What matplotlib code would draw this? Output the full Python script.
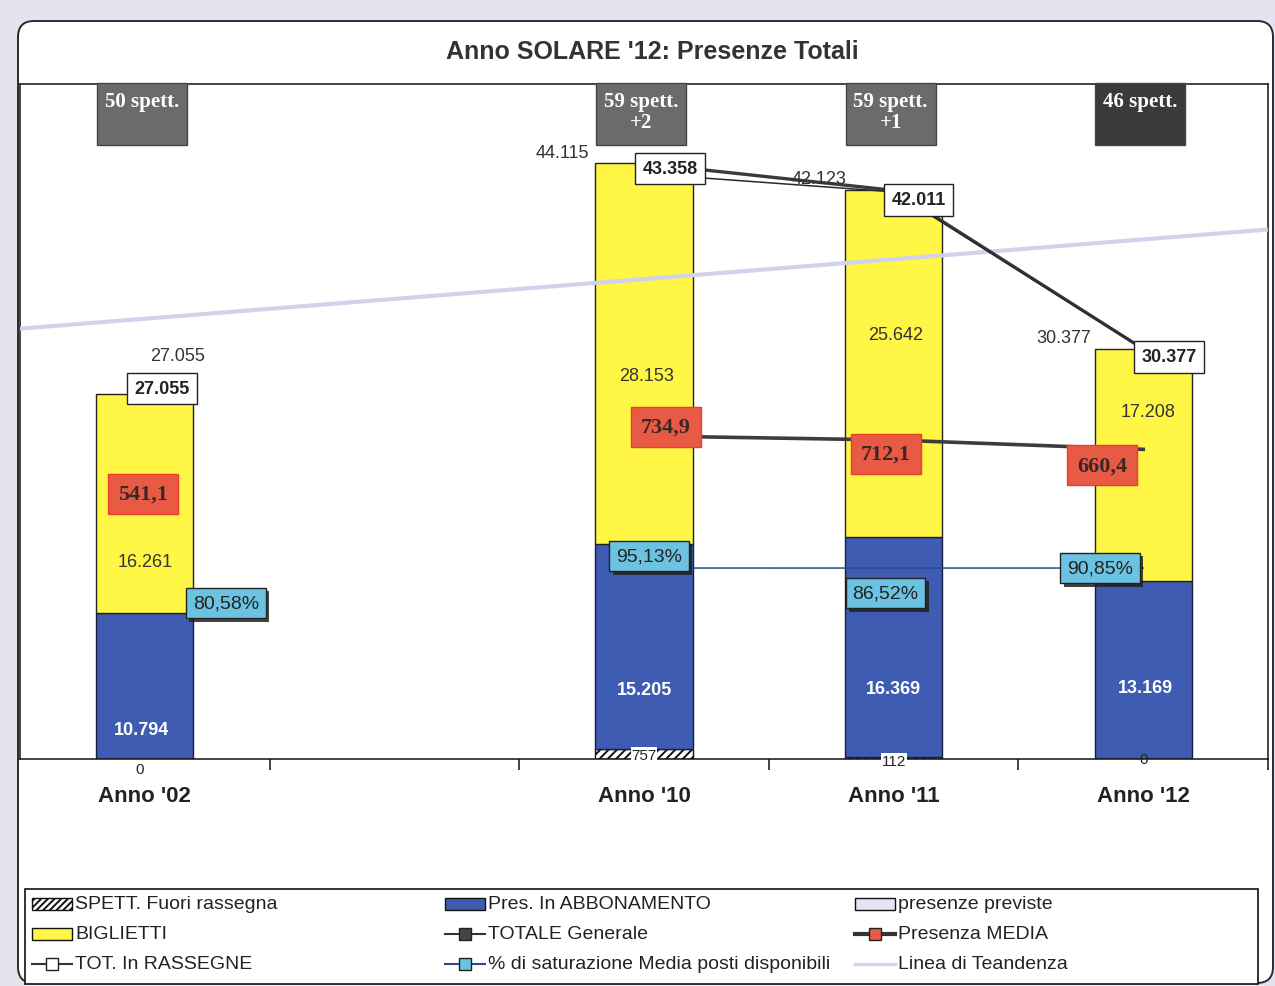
import numpy as np
import matplotlib
matplotlib.use('Agg')
import matplotlib.pyplot as plt
import matplotlib.patheffects as pe
import matplotlib.transforms as mtransforms
from matplotlib.patches import Rectangle, FancyBboxPatch
from matplotlib.lines import Line2D

plt.rcParams['font.family'] = ['Liberation Sans', 'DejaVu Sans']
plt.rcParams['hatch.linewidth'] = 1.4

# dati per anno (la seconda colonna e' vuota)
categories = ["Anno '02", "", "Anno '10", "Anno '11", "Anno '12"]
spett_fuori = [0, np.nan, 757, 112, 0]
abbonamento = [10794, np.nan, 15205, 16369, 13169]
biglietti = [16261, np.nan, 28153, 25642, 17208]
totale_generale = [27055, np.nan, 44115, 42123, 30377]
tot_rassegne = [27055, np.nan, 43358, 42011, 30377]
presenza_media = [541.1, np.nan, 734.9, 712.1, 660.4]
saturazione = [0.8058, np.nan, 0.9513, 0.8652, 0.9085]
spettacoli = ["50 spett.", "", "59 spett.\n+2", "59 spett.\n+1", "46 spett."]


def fmt_int(v):
    return f"{v:,.0f}".replace(',', '.')


def fmt_dec(v):
    return f"{v:.1f}".replace('.', ',')


def fmt_pct(v):
    return f"{v * 100:.2f}%".replace('.', ',')


W, H = 1275, 987
fig = plt.figure(figsize=(W / 100, H / 100), dpi=100, facecolor='#e4e4f0')

# cornice arrotondata
frame = FancyBboxPatch((0.18, 0.03), 12.55, 9.62,
                       boxstyle='round,pad=0,rounding_size=0.16',
                       transform=fig.dpi_scale_trans, fc='white',
                       ec='#2a2a2a', lw=1.4, zorder=-5)
fig.add_artist(frame)

ax = fig.add_axes([20 / W, (H - 760) / H, 1248 / W, 675 / H])
ax.set_facecolor('white')
ax2 = ax.twinx()

x = np.arange(len(categories))
fuori = np.array(spett_fuori, float)
abb = np.array(abbonamento, float)
big = np.array(biglietti, float)
tot = np.array(totale_generale, float)
rass = np.array(tot_rassegne, float)
media = np.array(presenza_media, float)
sat = np.array(saturazione, float)
width = 0.39

ax.bar(x, fuori, width, color='white', edgecolor='#111', hatch='////', lw=1, zorder=2)
ax.bar(x, abb, width, bottom=fuori, color='#3d5cb2', edgecolor='#1c1c3c', lw=1, zorder=2)
ax.bar(x, big, width, bottom=fuori + abb, color='#fff645', edgecolor='#222', lw=1, zorder=2)

# linea di tendenza sul totale generale
ok = ~np.isnan(tot)
coef = np.polyfit(x[ok], tot[ok], 1)
xt = np.array([-0.5, 4.5])
ax.plot(xt, np.polyval(coef, xt), color='#d2d2ec', lw=3, zorder=3, solid_capstyle='butt')

ax.plot(x, tot, color='#3a3a3a', lw=2.4, marker='s', ms=7, mfc='#444', mec='#222', zorder=4)
ax.plot(x, rass, color='#2a2a2a', lw=1.1, marker='s', ms=7, mfc='white', mec='#222', zorder=4)

ax2.plot(x, media, color='#3c3c3c', lw=2.6, zorder=4)
ax2.plot(x, sat, color='#2b4a8c', lw=1.1, zorder=4)

ax.set_yticks([])
ax2.set_yticks([])
for s in ax2.spines.values():
    s.set_visible(False)
for s in ax.spines.values():
    s.set_color('#111')
    s.set_linewidth(1.1)

ax.set_xticks(x + 0.5)
ax.set_xticklabels([])
ax.tick_params(axis='x', which='major', length=8, width=1.1, color='#111', direction='out')
ax.set_xticks(x, minor=True)
ax.set_xticklabels(categories, minor=True)
ax.tick_params(axis='x', which='minor', length=0, pad=19, labelsize=16, labelcolor='#222')
for lbl in ax.get_xticklabels(minor=True):
    lbl.set_fontweight('bold')

ax.set_xlim(-0.5, 4.5)
ax.set_ylim(0, 50000)
ax2.set_ylim(-1060, 2690)

# riquadri numero spettacoli
box_colors = ['#6b6b6b', '#6b6b6b', '#6b6b6b', '#6b6b6b', '#3a3a3a']
trans = mtransforms.blended_transform_factory(ax.transData, ax.transAxes)
for xi, txt, c in zip(x, spettacoli, box_colors):
    if not txt:
        continue
    ax.add_patch(Rectangle((xi - 0.012 - 0.18, (760 - 146) / 675), 0.36, 62 / 675,
                           transform=trans, fc=c, ec='#444', lw=1, zorder=5, clip_on=False))
    ax.text(xi - 0.012, (760 - 92) / 675, txt, transform=trans, ha='center', va='top',
            color='white', fontsize=15, fontweight='bold', linespacing=1.05,
            family=['Liberation Serif', 'DejaVu Serif'], zorder=6)


def label(xi, yv, text, dx, dy, primary=True, **kw):
    coords = ax.transData if primary else ax2.transData
    return ax2.annotate(text, (xi, yv), xycoords=coords, xytext=(dx, dy),
                        textcoords='offset pixels', ha='center', va='center',
                        zorder=10, **kw)


off_plain = [(33, 38), None, (-82, 11), (-75, 12), (-79, 11)]
off_box = [(17, 5), None, (26, 5), (25, -8), (26, -8)]
off_big = [(0, -58), None, (3, -22), (2, 29), (5, 54)]
off_abb = [(-3, -43), None, (0, -43), (0, -42), (2, -17)]
off_fuori = [(-5, -10), None, (0, -1), (0, -3), (0, 0)]
off_media = [(-2, -23), None, (22, 9), (-8, -14), (-41, -16)]
off_sat = [(81, -35), None, (5, 12), (-8, -25), (-43, 0)]

for i in x:
    if np.isnan(tot[i]):
        continue
    label(i, tot[i], fmt_int(tot[i]), *off_plain[i], fontsize=13, color='#333')
    label(i, rass[i], fmt_int(rass[i]), *off_box[i], fontsize=13, fontweight='bold',
          color='#222', bbox=dict(boxstyle='square,pad=0.4', fc='white', ec='#222', lw=1))
    label(i, fuori[i] + abb[i] + big[i] / 2, fmt_int(big[i]), *off_big[i],
          fontsize=13, color='#333')
    label(i, fuori[i] + abb[i] / 2, fmt_int(abb[i]), *off_abb[i],
          fontsize=13, fontweight='bold', color='white')
    label(i, fuori[i] / 2, fmt_int(fuori[i]), *off_fuori[i], fontsize=11, color='#222',
          bbox=dict(boxstyle='square,pad=0.05', fc='white', ec='none') if fuori[i] > 0 else None)
    label(i, media[i], fmt_dec(media[i]), *off_media[i], primary=False, fontsize=16,
          fontweight='bold', color='#3a2828', family=['Liberation Serif', 'DejaVu Serif'],
          bbox=dict(boxstyle='square,pad=0.45', fc='#e95a45', ec='#e8402e', lw=1))
    a = label(i, sat[i], fmt_pct(sat[i]), *off_sat[i], primary=False, fontsize=14,
              color='#222', bbox=dict(boxstyle='square,pad=0.35', fc='#6cc3e1', ec='#222', lw=1))
    a.get_bbox_patch().set_path_effects(
        [pe.withSimplePatchShadow(offset=(2.5, -2.5), shadow_rgbFace='#222', alpha=0.85)])

fig.text(652 / W, 1 - 52 / H, "Anno SOLARE '12: Presenze Totali", ha='center', va='center',
         fontsize=18, fontweight='bold', color='#333')

# legenda
ft = fig.transFigure
fig.add_artist(Rectangle((25 / W, 1 - 985 / H), 1233 / W, 95 / H, transform=ft,
                         fc='white', ec='#111', lw=1.2))


def leg_patch(cx, cy, fc, hatch=None):
    fig.add_artist(Rectangle((cx / W, 1 - (cy + 6) / H), 40 / W, 12 / H, transform=ft,
                             fc=fc, ec='#111', lw=1, hatch=hatch))


def leg_line(cx, cy, color, lw, mfc=None):
    fig.add_artist(Line2D([cx / W, (cx + 40) / W], [1 - cy / H] * 2, transform=ft,
                          color=color, lw=lw))
    if mfc:
        fig.add_artist(Line2D([(cx + 20) / W], [1 - cy / H], transform=ft, marker='s',
                              ms=9, mfc=mfc, mec='#222', lw=0))


cols = [32, 445, 855]
rows = [905, 935, 965]
leg_patch(cols[0], rows[0], 'white', '/////')
leg_patch(cols[1], rows[0], '#3d5cb2')
leg_patch(cols[2], rows[0], '#e4e4f4')
leg_patch(cols[0], rows[1], '#fff645')
leg_line(cols[1], rows[1], '#333', 1.5, '#444')
leg_line(cols[2], rows[1], '#333', 3, '#e95a45')
leg_line(cols[0], rows[2], '#333', 1.5, 'white')
leg_line(cols[1], rows[2], '#2b4a8c', 1.5, '#6cc3e1')
leg_line(cols[2], rows[2], '#d2d2ec', 2.5)

names = [["SPETT. Fuori rassegna", "Pres. In ABBONAMENTO", "presenze previste"],
         ["BIGLIETTI", "TOTALE Generale", "Presenza MEDIA"],
         ["TOT. In RASSEGNE", "% di saturazione Media posti disponibili", "Linea di Teandenza"]]
for r, row in enumerate(names):
    for c, name in enumerate(row):
        fig.text((cols[c] + 43) / W, 1 - rows[r] / H, name, ha='left', va='center',
                 fontsize=14, color='#222')

fig.savefig('out.png', dpi=100, facecolor=fig.get_facecolor())
